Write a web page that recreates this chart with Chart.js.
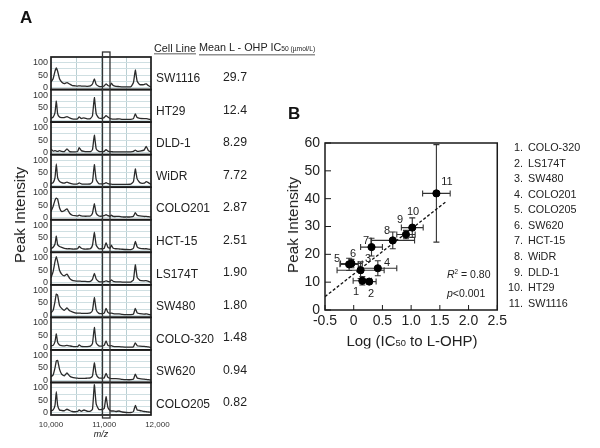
<!DOCTYPE html>
<html>
<head>
<meta charset="utf-8">
<script src="https://cdn.jsdelivr.net/npm/chart.js@4"></script>
<style>
  html, body { margin: 0; padding: 0; background: #fff; }
  #page { position: relative; width: 600px; height: 448px; overflow: hidden; font-family: "Liberation Sans", Arial, sans-serif; color: #222; }
  canvas { position: absolute; }
  .t { position: absolute; white-space: nowrap; transform: translateY(-50%); will-change: transform; }
  .t sub, .sm { font-size: 0.62em; vertical-align: baseline; }
</style>
</head>
<body>
<div id="page">
  <canvas id="espectros" width="170" height="395" style="left:15px;top:45px;width:170px;height:395px"></canvas>
  <canvas id="correlacao" width="225" height="215" style="left:285px;top:125px;width:225px;height:215px"></canvas>
</div>
<script>
// Panel A
const cellLines = ['SW1116', 'HT29', 'DLD-1', 'WiDR', 'COLO201', 'HCT-15', 'LS174T', 'SW480', 'COLO-320', 'SW620', 'COLO205'];
const ic50 = ['29.7', '12.4', '8.29', '7.72', '2.87', '2.51', '1.90', '1.80', '1.48', '0.94', '0.82'];
const mz = [10000, 10040, 10075, 10100, 10125, 10160, 10200, 10250, 10300, 10350, 10400, 10450, 10500, 10530, 10570, 10620, 10680, 10740, 10780, 10815, 10850, 10900, 10950, 11000, 11035, 11070, 11110, 11135, 11170, 11220, 11280, 11340, 11420, 11500, 11550, 11585, 11620, 11670, 11750, 11790, 11830, 11880];
const sw1116 = [8, 12, 30, 85, 30, 12, 10, 9, 15, 10, 6, 5, 6, 12, 7, 12, 7, 7, 15, 113, 35, 14, 14, 18, 65, 22, 10, 8, 8, 6, 8, 4, 2, 2, 6, 30, 12, 10, 6, 5, 4, 3];
const ht29 = [15, 22, 50, 78, 80, 45, 25, 18, 30, 18, 12, 10, 9, 8, 8, 8, 9, 10, 18, 70, 25, 10, 9, 10, 28, 12, 8, 7, 7, 7, 6, 4, 3, 3, 5, 25, 10, 7, 5, 4, 3, 2];
const dld1 = [8, 10, 25, 56, 22, 12, 9, 8, 10, 8, 6, 5, 5, 12, 6, 5, 5, 7, 18, 82, 20, 8, 7, 10, 28, 10, 8, 9, 6, 5, 5, 4, 3, 3, 5, 20, 9, 7, 6, 5, 4, 2];
const widr = [10, 20, 55, 85, 80, 40, 28, 20, 30, 18, 14, 10, 9, 9, 8, 8, 8, 10, 20, 72, 22, 8, 7, 9, 28, 12, 8, 9, 7, 6, 6, 4, 3, 3, 5, 28, 10, 7, 5, 6, 4, 2];
const colo201 = [20, 45, 85, 105, 85, 50, 35, 28, 35, 18, 10, 8, 7, 7, 6, 6, 5, 6, 14, 38, 15, 5, 4, 5, 8, 5, 6, 12, 6, 4, 4, 3, 3, 3, 12, 72, 22, 10, 8, 9, 6, 2];
const hct15 = [6, 12, 25, 56, 22, 15, 12, 8, 6, 6, 5, 5, 6, 15, 8, 5, 5, 6, 20, 72, 20, 6, 6, 8, 30, 12, 8, 20, 8, 6, 5, 4, 3, 3, 8, 35, 14, 8, 6, 6, 5, 3];
const ls174t = [25, 45, 70, 78, 75, 40, 25, 28, 35, 18, 10, 8, 7, 10, 7, 6, 6, 7, 18, 56, 18, 7, 6, 8, 12, 8, 6, 10, 5, 5, 5, 3, 3, 3, 6, 20, 10, 7, 5, 5, 4, 3];
const sw480 = [6, 10, 30, 85, 30, 15, 10, 8, 12, 8, 5, 4, 5, 9, 5, 4, 4, 5, 14, 82, 22, 6, 5, 6, 10, 6, 4, 4, 3, 3, 3, 3, 3, 4, 14, 65, 25, 10, 8, 14, 10, 3];
const colo320 = [15, 6, 8, 6, 5, 8, 5, 4, 15, 4, 3, 3, 5, 20, 8, 5, 4, 4, 12, 70, 15, 5, 4, 5, 12, 6, 4, 4, 3, 3, 3, 3, 3, 3, 5, 10, 5, 6, 10, 25, 8, 3];
const sw620 = [6, 12, 30, 76, 25, 12, 10, 10, 14, 9, 5, 4, 5, 13, 6, 9, 5, 6, 18, 90, 25, 8, 7, 10, 18, 12, 6, 5, 4, 4, 5, 3, 3, 3, 6, 25, 10, 7, 6, 6, 4, 2];
const colo205 = [22, 35, 65, 78, 65, 35, 22, 16, 20, 14, 8, 7, 6, 7, 6, 6, 5, 7, 14, 35, 12, 5, 4, 6, 15, 8, 6, 18, 8, 5, 4, 3, 3, 3, 20, 70, 25, 12, 12, 15, 8, 2];
const spectra = [sw1116, ht29, dld1, widr, colo201, hct15, ls174t, sw480, colo320, sw620, colo205];
const mzTicks = [10000, 10470, 10940, 11000, 11410, 12000];
const windowMz = [10968, 11109];

// Panel B
const numbered = ['COLO-320', 'LS174T', 'SW480', 'COLO201', 'COLO205', 'SW620', 'HCT-15', 'WiDR', 'DLD-1', 'HT29', 'SW1116'];
const logIc50 = [0.15, 0.27, 0.12, 0.42, -0.08, -0.04, 0.31, 0.68, 0.91, 1.02, 1.44];
const peak = [10.5, 10.2, 14.3, 15, 16.4, 16.7, 22.6, 25, 27.1, 29.6, 41.9];
const xErr = [0.16, 0.12, 0.41, 0.33, 0.16, 0.19, 0.19, 0.38, 0.16, 0.19, 0.24];
const yErr = [1.5, 0.8, 3, 2.7, 2.2, 1.5, 3.2, 3, 1.5, 3.5, 17.5];
const fitX = [-0.5, 1.6];
const fitY = [4.8, 38.8];

const page = document.getElementById('page');
function texto(html, x, y, size, extra) {
  const d = document.createElement('div');
  d.className = 't';
  d.innerHTML = html;
  d.style.left = x + 'px';
  d.style.top = y + 'px';
  d.style.fontSize = size + 'px';
  if (extra) Object.assign(d.style, extra);
  page.appendChild(d);
  return d;
}

// moldura dos paineis e janela do pico de 11 kDa
const molduraA = {
  id: 'molduraA',
  afterDraw(chart) {
    const c = chart.ctx, x = chart.scales.x;
    c.save();
    c.strokeStyle = '#1a1a1a';
    c.lineWidth = 1.7;
    cellLines.forEach((n, i) => {
      const s = chart.scales['y' + i];
      c.strokeRect(x.left, s.top, x.right - x.left, s.bottom - s.top);
    });
    const a = x.getPixelForValue(windowMz[0]), b = x.getPixelForValue(windowMz[1]);
    c.strokeStyle = '#333';
    c.lineWidth = 1.3;
    c.strokeRect(a, chart.chartArea.top - 5, b - a, chart.chartArea.bottom - chart.chartArea.top + 8);
    c.restore();
  }
};

const scalesA = {
  x: {
    type: 'linear',
    min: 10000,
    max: 11880,
    afterBuildTicks: s => { s.ticks = mzTicks.map(v => ({ value: v })); },
    afterFit: s => { s.height = 25; },
    border: { display: false },
    grid: {
      drawTicks: false,
      tickLength: 0,
      color: c => (c.tick && c.tick.value % 1000 === 0) ? 'rgba(0,0,0,0)' : '#b9cfd3',
      lineWidth: 1
    },
    ticks: {
      autoSkip: false,
      maxRotation: 0,
      padding: 5,
      color: '#333',
      font: { family: 'Liberation Sans', size: 8 },
      callback: v => v % 1000 === 0 ? v.toLocaleString('en-US') : ''
    },
    title: { display: true, text: 'm/z', padding: 0, color: '#222', font: { family: 'Liberation Sans', size: 9, style: 'italic' } }
  }
};
cellLines.forEach((n, i) => {
  scalesA['y' + i] = {
    axis: 'y',
    type: 'linear',
    stack: 'paineis',
    stackWeight: 1,
    min: -8,
    max: 122,
    afterBuildTicks: s => { s.ticks = [0, 25, 50, 75, 100].map(v => ({ value: v })); },
    afterFit: s => { s.width = 36; },
    border: { display: false },
    grid: { drawTicks: false, color: '#cfdfe2', lineWidth: 1 },
    ticks: {
      autoSkip: false,
      padding: 3,
      color: '#333',
      font: { family: 'Liberation Sans', size: 9 },
      callback: v => v % 50 === 0 ? v : ''
    }
  };
});

new Chart(document.getElementById('espectros'), {
  type: 'line',
  data: {
    datasets: spectra.map((serie, i) => ({
      label: cellLines[i],
      yAxisID: 'y' + i,
      data: serie.map((v, k) => ({ x: mz[k], y: v })),
      borderColor: '#2b2b2b',
      borderWidth: 1.3,
      pointRadius: 0,
      tension: 0.15,
      fill: false
    }))
  },
  options: {
    animation: false,
    responsive: false,
    layout: { padding: { left: 0, right: 34, top: 12, bottom: 0 } },
    plugins: { legend: { display: false }, tooltip: { enabled: false } },
    scales: scalesA
  },
  plugins: [molduraA]
});

// barras de erro e marcas internas dos eixos
const barrasErro = {
  id: 'barrasErro',
  beforeDatasetsDraw(chart) {
    const c = chart.ctx, x = chart.scales.x, y = chart.scales.y;
    c.save();
    c.strokeStyle = '#333';
    c.lineWidth = 1.1;
    logIc50.forEach((v, i) => {
      const px = x.getPixelForValue(v), py = y.getPixelForValue(peak[i]);
      const x0 = x.getPixelForValue(v - xErr[i]), x1 = x.getPixelForValue(v + xErr[i]);
      const y0 = y.getPixelForValue(peak[i] - yErr[i]), y1 = y.getPixelForValue(peak[i] + yErr[i]);
      c.beginPath();
      c.moveTo(x0, py); c.lineTo(x1, py);
      c.moveTo(x0, py - 3); c.lineTo(x0, py + 3);
      c.moveTo(x1, py - 3); c.lineTo(x1, py + 3);
      c.moveTo(px, y0); c.lineTo(px, y1);
      c.moveTo(px - 3, y0); c.lineTo(px + 3, y0);
      c.moveTo(px - 3, y1); c.lineTo(px + 3, y1);
      c.stroke();
    });
    c.restore();
  },
  afterDraw(chart) {
    const c = chart.ctx, x = chart.scales.x, y = chart.scales.y, a = chart.chartArea;
    c.save();
    c.strokeStyle = '#1a1a1a';
    c.lineWidth = 1.5;
    c.strokeRect(a.left, a.top, a.right - a.left, a.bottom - a.top);
    c.lineWidth = 1;
    c.beginPath();
    x.ticks.forEach(t => {
      const p = x.getPixelForValue(t.value);
      c.moveTo(p, a.bottom); c.lineTo(p, a.bottom - 5);
    });
    y.ticks.forEach(t => {
      const p = y.getPixelForValue(t.value);
      c.moveTo(a.left, p); c.lineTo(a.left + 6, p);
    });
    c.stroke();
    c.restore();
  }
};

new Chart(document.getElementById('correlacao'), {
  type: 'scatter',
  data: {
    datasets: [
      {
        label: 'Peak Intensity',
        data: logIc50.map((v, i) => ({ x: v, y: peak[i] })),
        backgroundColor: '#000',
        borderColor: '#000',
        pointRadius: 3.6
      },
      {
        label: 'Fit',
        type: 'line',
        data: fitX.map((v, i) => ({ x: v, y: fitY[i] })),
        borderColor: '#111',
        borderWidth: 1.3,
        borderDash: [3, 2],
        pointRadius: 0,
        fill: false
      }
    ]
  },
  options: {
    animation: false,
    responsive: false,
    layout: { padding: { left: 0, right: 12, top: 18, bottom: 0 } },
    plugins: { legend: { display: false }, tooltip: { enabled: false } },
    scales: {
      x: {
        type: 'linear',
        min: -0.5,
        max: 2.5,
        afterFit: s => { s.height = 30; },
        border: { display: false },
        grid: { display: false, drawTicks: false, tickLength: 0 },
        ticks: {
          stepSize: 0.5,
          padding: 3,
          maxRotation: 0,
          color: '#222',
          font: { family: 'Liberation Sans', size: 14 },
          callback: v => v === 0 ? '0' : v.toFixed(1)
        }
      },
      y: {
        type: 'linear',
        min: 0,
        max: 60,
        afterFit: s => { s.width = 40; },
        border: { display: false },
        grid: { display: false, drawTicks: false, tickLength: 0 },
        ticks: {
          stepSize: 10,
          padding: 5,
          color: '#222',
          font: { family: 'Liberation Sans', size: 14 }
        }
      }
    }
  },
  plugins: [barrasErro]
});

// textos do painel A
texto('A', 20, 18, 17, { fontWeight: 'bold', color: '#111' });
texto('Cell Line', 154, 48, 10.8, { borderBottom: '1px solid #222', lineHeight: '12px' });
texto('Mean L - OHP IC<span class="sm">50 (µmol/L)</span>', 199, 48, 10.8, { borderBottom: '1px solid #222', lineHeight: '12px' });
texto('Peak Intensity', 20, 215, 15.3, { transform: 'translate(-50%,-50%) rotate(-90deg)' });
cellLines.forEach((n, i) => {
  texto(n, 156, 78 + i * 32.6, 12);
  texto(ic50[i], 235, 77 + i * 32.5, 12.3, { transform: 'translate(-50%,-50%)' });
});

// textos do painel B
texto('B', 288, 114, 17, { fontWeight: 'bold', color: '#111' });
texto('Peak Intensity', 293, 225, 15.3, { transform: 'translate(-50%,-50%) rotate(-90deg)' });
texto('Log (IC<span class="sm">50</span> to L-OHP)', 412, 340, 15, { transform: 'translate(-50%,-50%)' });
texto('<i>R</i><sup style="font-size:.6em;line-height:0">2</sup> = 0.80', 447, 274, 10.5);
texto('<i>p</i>&lt;0.001', 447, 293, 10.5);
const rotulosXY = [[356, 291], [371, 293], [368, 258], [387, 262], [337, 258], [353, 253], [366, 240], [387, 230], [400, 219], [413, 211], [447, 181]];
rotulosXY.forEach((p, i) => {
  texto(String(i + 1), p[0], p[1], 11, { transform: 'translate(-50%,-50%)' });
});
numbered.forEach((n, i) => {
  const y = 147 + i * 15.58;
  texto((i + 1) + '.', 523, y, 10.8, { transform: 'translate(-100%,-50%)' });
  texto(n, 528, y, 10.8);
});
</script>
</body>
</html>
